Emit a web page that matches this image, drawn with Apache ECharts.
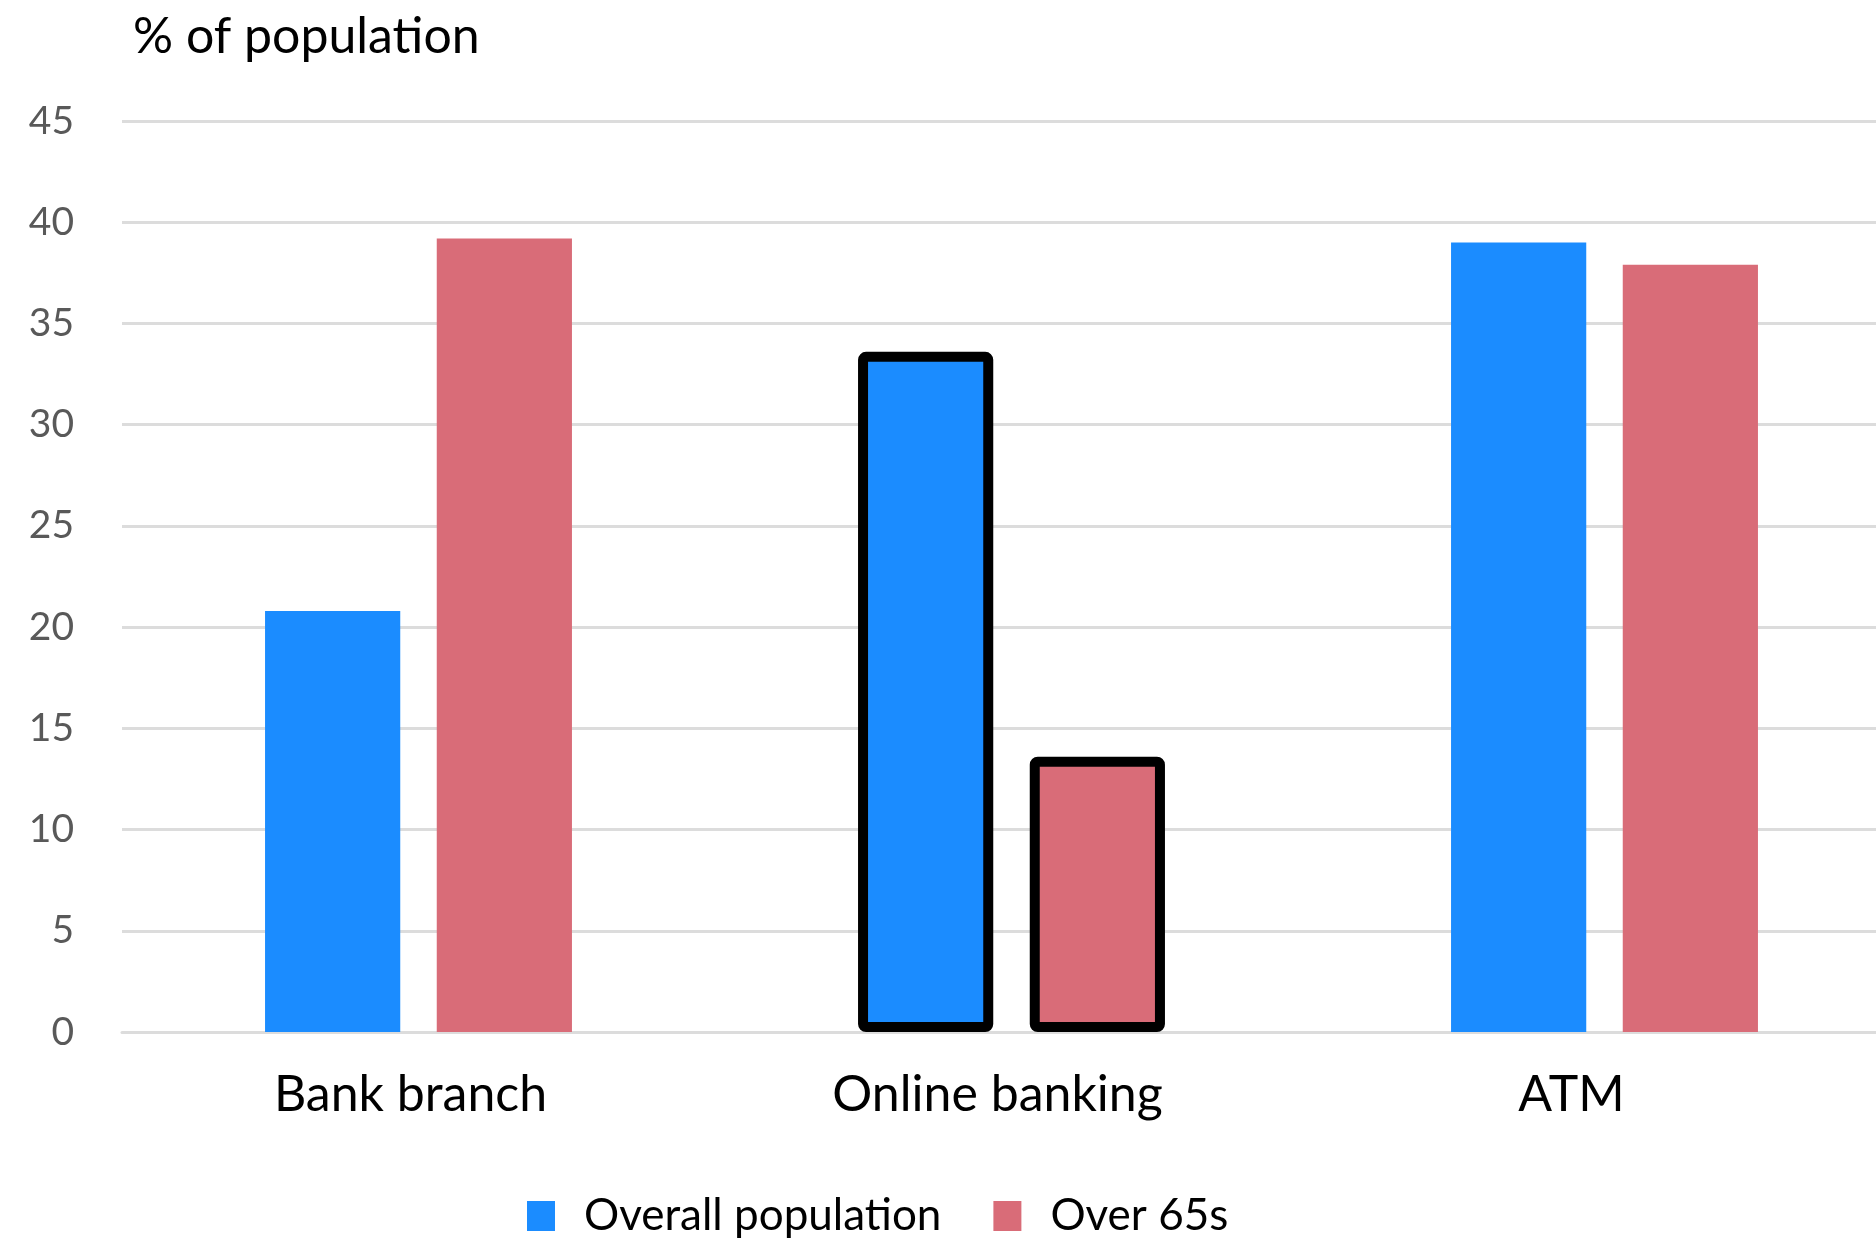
<!DOCTYPE html>
<html>
<head>
<meta charset="utf-8">
<title>Banking channels</title>
<script src="https://cdn.jsdelivr.net/npm/echarts@6/dist/echarts.min.js"></script>
<style>
  html, body { margin: 0; padding: 0; background: #fff; }
  #chart { width: 1876px; height: 1238px; }
</style>
</head>
<body>
<div id="chart"></div>
<script>
// data
var categories = ["Bank branch", "Online banking", "ATM"];
var overall = [20.8, 33.6, 39.0];
var over65 = [39.2, 13.6, 37.9];
var seriesNames = ["Overall population", "Over 65s"];
var yTicks = [0, 45, 5]; // min, max, step

// online banking bars are outlined in the original
var highlighted = 1;

function withOutline(values) {
  return values.map(function (v, i) {
    if (i !== highlighted) return v;
    return {
      value: v,
      itemStyle: { borderColor: "#000", borderWidth: 10, borderRadius: 3 },
    };
  });
}

var myChart = echarts.init(document.getElementById("chart"));
var font = "Lato, 'Open Sans', sans-serif";

// category labels sit a little left of their bar pairs in the original
var labelNudge = [16, 28, 66];

var option = {
  animation: false,
  color: ["#1b8cff", "#d96c78"],
  title: {
    text: "% of population",
    left: 128,
    top: 7,
    textStyle: { fontFamily: font, fontSize: 50, fontWeight: "normal", color: "#000" },
  },
  legend: {
    data: seriesNames,
    left: 522,
    top: 1189,
    icon: "rect",
    itemWidth: 28,
    itemHeight: 30,
    itemGap: 52,
    textStyle: { fontFamily: font, fontSize: 44, color: "#000", padding: [0, 0, 0, 24] },
  },
  grid: {
    top: 121,
    bottom: 1238 - 1032,
    left: 122,
    right: -25,
    outerBoundsMode: "none",
    containLabel: false,
  },
  xAxis: {
    type: "category",
    data: categories.map(function (c, i) {
      return { value: c, textStyle: { padding: [0, labelNudge[i], 0, 0] } };
    }),
    axisLine: { lineStyle: { color: "#dcdcdc", width: 3 } },
    axisTick: { show: false },
    axisLabel: { fontFamily: font, fontSize: 50, color: "#000", margin: 38 },
  },
  yAxis: {
    type: "value",
    min: yTicks[0],
    max: yTicks[1],
    interval: yTicks[2],
    axisLine: { show: false },
    axisTick: { show: false },
    axisLabel: { fontFamily: font, fontSize: 39, color: "#595959", margin: 48 },
    splitLine: { lineStyle: { color: "#dcdcdc", width: 3 } },
  },
  series: [
    {
      name: seriesNames[0],
      type: "bar",
      data: withOutline(overall),
      barWidth: "22.8%",
      barGap: "27%",
    },
    {
      name: seriesNames[1],
      type: "bar",
      data: withOutline(over65),
      barWidth: "22.8%",
      barGap: "27%",
    },
  ],
};

myChart.setOption(option);
</script>
</body>
</html>
